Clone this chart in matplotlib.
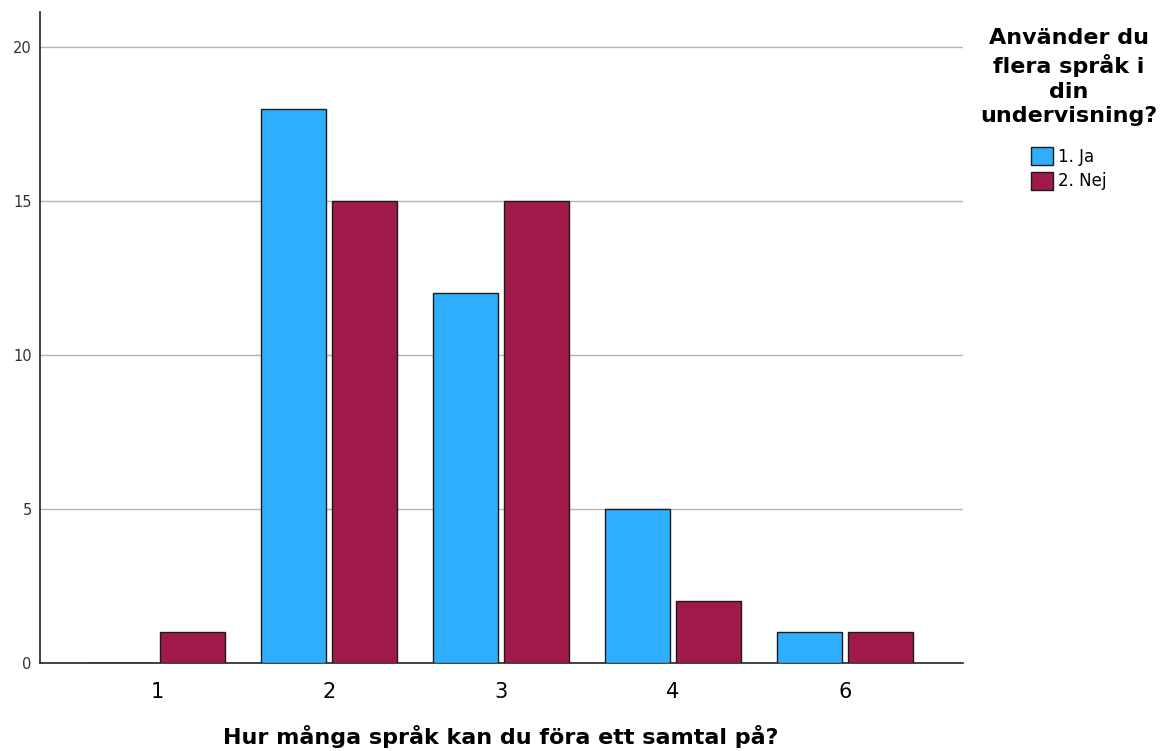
import numpy as np
import matplotlib.pyplot as plt

categories = ['1', '2', '3', '4', '6']
ja = [0, 18, 12, 5, 1]
nej = [1, 15, 15, 2, 1]

blue = '#2EAEFD'
red = '#A0194B'

fig = plt.figure(figsize=(11.71, 7.51), dpi=100)
ax = fig.add_axes([40 / 1171, 88 / 751, 923 / 1171, 651 / 751])

x = np.arange(len(categories))
w = 0.378
ax.bar(x - 0.207, ja, width=w, color=blue, edgecolor='#1a1a1a', linewidth=1, label='1. Ja', zorder=3)
ax.bar(x + 0.207, nej, width=w, color=red, edgecolor='#1a1a1a', linewidth=1, label='2. Nej', zorder=3)

ax.set_xlim(-0.68, 4.686)
ax.set_ylim(0, 21.14)
ax.set_yticks([0, 5, 10, 15, 20])
ax.yaxis.grid(True, color='#b5b5b5', linewidth=1, zorder=0)
ax.set_xticks(x)
ax.set_xticklabels(categories, fontsize=15)
ax.tick_params(axis='y', length=0, labelsize=10.5, labelcolor='#333333', pad=6)
ax.tick_params(axis='x', length=0, pad=14)
for s in ['top', 'right']:
    ax.spines[s].set_visible(False)
for s in ['left', 'bottom']:
    ax.spines[s].set_color('#222222')
    ax.spines[s].set_linewidth(1.2)

# x-axis title placed in figure coords so it is not clipped
fig.text(501 / 1171, 1 - 737 / 751, 'Hur många språk kan du föra ett samtal på?',
         fontsize=16, fontweight='bold', ha='center', va='center')

leg = fig.legend(loc='upper center', bbox_to_anchor=(1069 / 1171, 1 - 13 / 751),
                 title='Använder du\nflera språk i\ndin\nundervisning?', frameon=False,
                 fontsize=12, handlelength=1.3, handleheight=1.3, handletextpad=0.3,
                 labelspacing=0.35)
leg.get_title().set_fontweight('bold')
leg.get_title().set_fontsize(16)
leg.get_title().set_linespacing(1.3)
leg.get_title().set_multialignment('center')
leg._legend_box.sep = 15

fig.savefig('out.png', dpi=100)
